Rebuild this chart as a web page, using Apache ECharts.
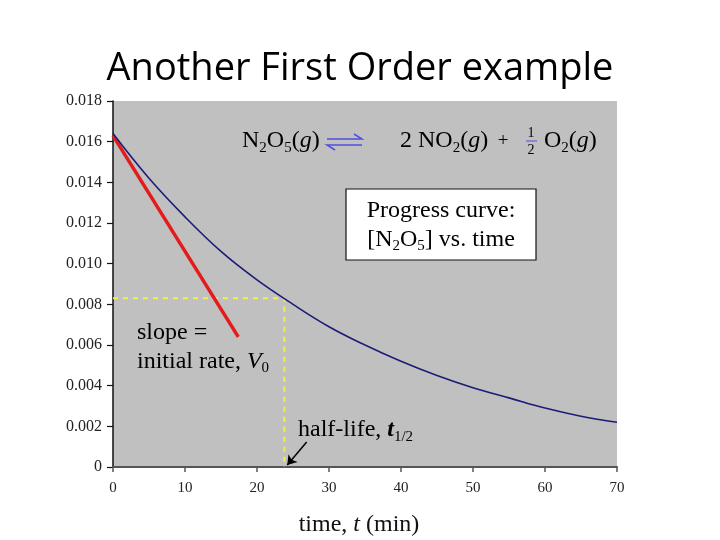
<!DOCTYPE html>
<html>
<head>
<meta charset="utf-8">
<title>Another First Order example</title>
<script src="https://cdn.jsdelivr.net/npm/echarts@6/dist/echarts.min.js"></script>
<style>
  html, body { margin: 0; padding: 0; background: #fff; }
  #chart { width: 720px; height: 540px; }
</style>
</head>
<body>
<div id="chart"></div>
<script>
// progress curve of [N2O5]
const timeMin = [0, 5, 10, 15, 20, 25, 30, 35, 40, 45, 50, 55, 60, 65, 70];
const n2o5Conc = [0.0164, 0.0142, 0.0123, 0.0106, 0.0092, 0.0080, 0.0069, 0.0060,
  0.0052, 0.0045, 0.0039, 0.0034, 0.0029, 0.0025, 0.0022];

// initial-rate tangent (red)
const tangentTime = [0, 17.4];
const tangentConc = [0.0163, 0.0064];

// half-life guide (yellow dashes)
const guideTime = [0, 23.8, 23.8];
const guideConc = [0.0083, 0.0083, 0];

// arrow pointing at t1/2
const arrowTime = [26.9, 24.2];
const arrowConc = [0.00123, 0.0001];

const xTicks = { min: 0, max: 70, step: 10 };
const yTicks = { min: 0, max: 0.018, step: 0.002 };

const serif = '"Liberation Serif", "DejaVu Serif", serif';
const eqBlue = '#4f4fe0';

function zip(xs, ys) {
  return xs.map((x, i) => [x, ys[i]]);
}

function richSet(color, size) {
  return {
    b: { fontFamily: serif, fontSize: size, lineHeight: size + 5, color: color },
    i: { fontFamily: serif, fontSize: size, lineHeight: size + 5, fontStyle: 'italic', color: color },
    bi: { fontFamily: serif, fontSize: size, lineHeight: size + 5, fontStyle: 'italic', fontWeight: 'bold', color: color },
    s: { fontFamily: serif, fontSize: Math.round(size * 0.62), lineHeight: Math.round(size * 0.62), verticalAlign: 'bottom', color: color }
  };
}

function label(text, x, y, color, size, align) {
  return {
    type: 'text',
    z: 100,
    style: {
      text: text,
      x: x,
      y: y,
      align: align || 'left',
      verticalAlign: 'middle',
      rich: richSet(color, size)
    }
  };
}

const chart = echarts.init(document.getElementById('chart'));

chart.setOption({
  animation: false,
  backgroundColor: '#ffffff',
  title: {
    text: 'Another First Order example',
    left: 'center',
    top: 45,
    textStyle: {
      fontFamily: '"Open Sans", sans-serif',
      fontSize: 38,
      fontWeight: 'normal',
      color: '#000'
    }
  },
  grid: {
    left: 113,
    right: 103,
    top: 101,
    bottom: 73,
    outerBoundsMode: 'none',
    show: true,
    backgroundColor: '#c0c0c0',
    borderWidth: 0
  },
  xAxis: {
    type: 'value',
    min: xTicks.min,
    max: xTicks.max,
    interval: xTicks.step,
    name: '{b|time, }{i|t}{b| (min)}',
    nameLocation: 'middle',
    nameGap: 46,
    nameTextStyle: {
      padding: [0, 12, 0, 0],
      rich: {
        b: { fontFamily: serif, fontSize: 24, color: '#111' },
        i: { fontFamily: serif, fontSize: 24, fontStyle: 'italic', color: '#111' }
      }
    },
    axisLine: { show: true, onZero: false, lineStyle: { color: '#555', width: 2 } },
    axisTick: { show: true, length: 5, lineStyle: { color: '#555', width: 1.5 } },
    splitLine: { show: false },
    axisLabel: { fontFamily: serif, fontSize: 15, color: '#222', margin: 14 }
  },
  yAxis: {
    type: 'value',
    min: yTicks.min,
    max: yTicks.max,
    interval: yTicks.step,
    axisLine: { show: true, onZero: false, lineStyle: { color: '#111', width: 1.5 } },
    axisTick: { show: true, length: 6, lineStyle: { color: '#111', width: 1.2 } },
    splitLine: { show: false },
    axisLabel: {
      fontFamily: serif,
      fontSize: 16,
      color: '#222',
      margin: 11,
      formatter: (v) => (v === 0 ? '0' : v.toFixed(3))
    }
  },
  series: [
    {
      name: 'half-life guide',
      type: 'line',
      data: zip(guideTime, guideConc),
      showSymbol: false,
      lineStyle: { color: '#f4f040', width: 2, type: [5, 5] },
      z: 2
    },
    {
      name: 'initial rate',
      type: 'line',
      data: zip(tangentTime, tangentConc),
      showSymbol: false,
      lineStyle: { color: '#e41b1b', width: 3.5 },
      z: 3
    },
    {
      name: '[N2O5]',
      type: 'line',
      data: zip(timeMin, n2o5Conc),
      smooth: 0.4,
      showSymbol: false,
      lineStyle: { color: '#1c1c78', width: 1.6 },
      z: 4
    },
    {
      name: 'arrow',
      type: 'line',
      data: [],
      markLine: {
        silent: true,
        symbol: ['none', 'arrow'],
        symbolSize: 9,
        label: { show: false },
        lineStyle: { color: '#000', width: 1.5, type: 'solid' },
        data: [[
          { coord: [arrowTime[0], arrowConc[0]] },
          { coord: [arrowTime[1], arrowConc[1]] }
        ]]
      },
      z: 5
    }
  ],
  graphic: [
    // reaction equation
    label('{b|N}{s|2}{b|O}{s|5}{b|(}{i|g}{b|)}', 242, 141, eqBlue, 24),
    {
      type: 'polyline',
      z: 100,
      shape: { points: [[327, 139], [362, 139], [354, 134]] },
      style: { stroke: eqBlue, lineWidth: 1.5, fill: null }
    },
    {
      type: 'polyline',
      z: 100,
      shape: { points: [[335, 150], [327, 145], [362, 145]] },
      style: { stroke: eqBlue, lineWidth: 1.5, fill: null }
    },
    label('{b|2 NO}{s|2}{b|(}{i|g}{b|)}', 400, 141, eqBlue, 24),
    label('{b|+}', 503, 141, eqBlue, 19, 'center'),
    label('{b|1}', 531, 133, eqBlue, 14, 'center'),
    {
      type: 'line',
      z: 100,
      shape: { x1: 526, y1: 141, x2: 537, y2: 141 },
      style: { stroke: eqBlue, lineWidth: 1 }
    },
    label('{b|2}', 531, 150, eqBlue, 14, 'center'),
    label('{b|O}{s|2}{b|(}{i|g}{b|)}', 544, 141, eqBlue, 24),

    // progress curve box
    {
      type: 'rect',
      z: 90,
      shape: { x: 346, y: 189, width: 190, height: 71 },
      style: { fill: '#ffffff', stroke: '#111', lineWidth: 1.2 }
    },
    label('{b|Progress curve:}\n{b|[N}{s|2}{b|O}{s|5}{b|] vs. time}', 441, 225, '#111', 24, 'center'),

    // annotations
    label('{b|slope =}\n{b|initial rate, }{i|V}{s|0}', 137, 347, '#111', 24),
    label('{b|half-life, }{bi|t}{s|1/2}', 298, 430, '#111', 24)
  ]
});
</script>
</body>
</html>
